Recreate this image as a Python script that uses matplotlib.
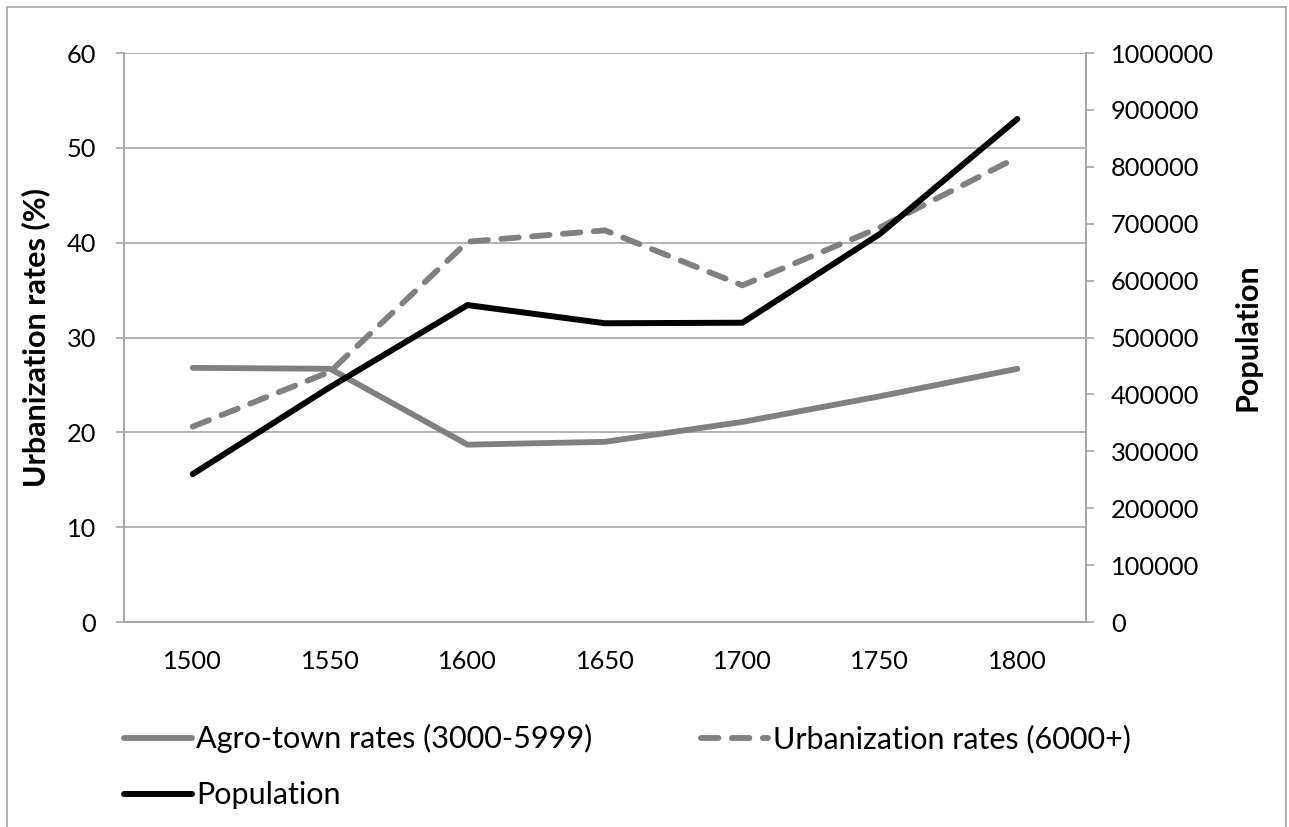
import matplotlib
matplotlib.use('Agg')
import matplotlib.pyplot as plt

# Datos
years = ['1500', '1550', '1600', '1650', '1700', '1750', '1800']
agro_town = [26.8, 26.7, 18.7, 19.0, 21.1, 23.8, 26.7]
urban_6000 = [20.6, 26.4, 40.1, 41.3, 35.5, 41.6, 49.0]
population = [260000, 413000, 557000, 525000, 526000, 682000, 884000]

plt.rcParams['font.family'] = ['Lato', 'DejaVu Sans']
gray = '#808080'
axis_gray = '#A6A6A6'

fig = plt.figure(figsize=(12.89, 8.27), dpi=100)
ax = fig.add_axes([124 / 1289, 1 - 622 / 827, (1086 - 124) / 1289, (622 - 53) / 827])
ax2 = ax.twinx()

x = list(range(len(years)))
l1, = ax.plot(x, agro_town, color=gray, lw=4.2, solid_capstyle='round', solid_joinstyle='round',
              label='Agro-town rates (3000-5999)')
l2, = ax.plot(x, urban_6000, color=gray, lw=4.2, linestyle=(0, (3.0, 2.3)),
              dash_capstyle='round', dash_joinstyle='round',
              label='Urbanization rates (6000+)')
l3, = ax2.plot(x, population, color='black', lw=4.3, solid_capstyle='round',
               solid_joinstyle='round', label='Population')

ax.set_xlim(-0.5, len(years) - 0.5)
ax.set_ylim(0, 60)
ax.set_yticks(range(0, 61, 10))
ax2.set_ylim(0, 1000000)
ax2.set_yticks(range(0, 1000001, 100000))
ax2.set_yticklabels([str(v) for v in range(0, 1000001, 100000)])
ax.set_xticks(x)
ax.set_xticklabels(years)

ax.grid(True, axis='y', color=axis_gray, lw=1.2)
ax.set_axisbelow(True)
for a in (ax, ax2):
    a.spines['top'].set_visible(False)
    for s in ('left', 'right', 'bottom'):
        a.spines[s].set_color(axis_gray)
        a.spines[s].set_linewidth(1.2)
ax.tick_params(axis='y', length=6, width=1.2, color=axis_gray, labelsize=18.3, pad=14)
ax2.tick_params(axis='y', length=6, width=1.2, color=axis_gray, labelsize=18.3, pad=12)
ax.tick_params(axis='x', length=0, labelsize=18.3, pad=20)

ax.set_ylabel('Urbanization rates (%)', fontsize=22, fontweight='bold', labelpad=12)
ax2.set_ylabel('Population', fontsize=22, fontweight='bold', labelpad=14)

# orden para que la tercera entrada quede en la segunda fila
fig.legend(handles=[l1, l3, l2], loc='upper left', bbox_to_anchor=(109 / 1289, 1 - 709 / 827),
           ncol=2, frameon=False, fontsize=22, handlelength=2.2, handletextpad=0.15,
           columnspacing=3.55, labelspacing=0.92, borderpad=0)

# borde del area del grafico
fig.patches.append(plt.Rectangle((7 / 1289, -0.01), 1279 / 1289, 1 - 7 / 827 + 0.01,
                                 transform=fig.transFigure, fill=False,
                                 edgecolor=axis_gray, lw=1.2))

fig.savefig('out.png', dpi=100)
